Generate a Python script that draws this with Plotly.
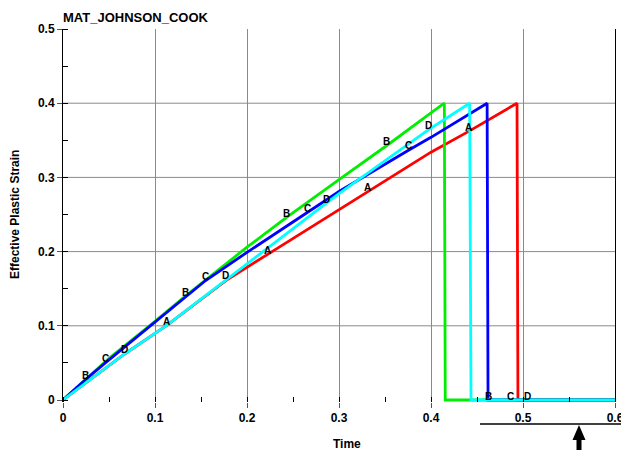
import numpy as np
import plotly.graph_objects as go

# ---- data ----
time_A = [0, 0.067, 0.112, 0.177, 0.222, 0.3, 0.331, 0.4, 0.441, 0.4935, 0.4945, 0.6]
strain_A = [0, 0.062, 0.100, 0.161, 0.196, 0.256, 0.281, 0.334, 0.362, 0.4, 0, 0]

time_B = [0, 0.024, 0.05, 0.1, 0.133, 0.2, 0.243, 0.3, 0.352, 0.4, 0.4145, 0.4155, 0.6]
strain_B = [0, 0.027, 0.056, 0.106, 0.140, 0.206, 0.246, 0.297, 0.343, 0.387, 0.4, 0, 0]

time_C = [0, 0.024, 0.046, 0.1, 0.155, 0.2, 0.266, 0.3, 0.376, 0.4, 0.461, 0.462, 0.6]
strain_C = [0, 0.027, 0.050, 0.105, 0.161, 0.199, 0.253, 0.281, 0.337, 0.354, 0.4, 0, 0]

time_D = [0, 0.067, 0.112, 0.177, 0.2, 0.286, 0.3, 0.397, 0.442, 0.4435, 0.6]
strain_D = [0, 0.062, 0.100, 0.162, 0.183, 0.265, 0.278, 0.364, 0.4, 0, 0]

label_t_A = [0.112, 0.222, 0.331, 0.441]
label_t_B = [0.024, 0.133, 0.243, 0.352, 0.462]
label_t_C = [0.046, 0.155, 0.266, 0.376, 0.486]
label_t_D = [0.067, 0.177, 0.286, 0.397, 0.505]

x_ticks = [0, 0.1, 0.2, 0.3, 0.4, 0.5, 0.6]
y_ticks = [0, 0.1, 0.2, 0.3, 0.4, 0.5]

FONT = "Liberation Sans, Arial, Helvetica, sans-serif"
GRID = "#8a8a8a"

curves = [
    ("A", time_A, strain_A, "#ff0000", label_t_A),
    ("B", time_B, strain_B, "#00ee00", label_t_B),
    ("C", time_C, strain_C, "#0000ff", label_t_C),
    ("D", time_D, strain_D, "#00ffff", label_t_D),
]

fig = go.Figure()
annotations = []
for name, t, s, col, lt in curves:
    fig.add_trace(go.Scatter(x=t, y=s, mode="lines", name=name,
                             line=dict(color=col, width=2.8), showlegend=False))
    ly = np.interp(lt, t, s)
    for xx, yy in zip(lt, ly):
        annotations.append(dict(x=xx, y=float(yy), xref="x", yref="y", text=name,
                                showarrow=False, yshift=4,
                                font=dict(family=FONT, size=10, color="black", weight="bold")))

# axis titles
annotations.append(dict(text="Time", xref="paper", yref="paper",
                        x=(347 - 63) / 552, y=(402 - 444) / 373,
                        showarrow=False, xanchor="center", yanchor="middle",
                        font=dict(family=FONT, size=12, color="black", weight="bold")))
annotations.append(dict(text="Effective Plastic Strain", xref="paper", yref="paper",
                        x=(15 - 63) / 552, y=(402 - 215) / 373, textangle=-90,
                        showarrow=False, xanchor="center", yanchor="middle",
                        font=dict(family=FONT, size=12, color="black", weight="bold")))

def px(xp):
    return (xp - 63) / 552

def py(yp):
    return (402 - yp) / 373

shapes = []
# horizontal grid lines (interior ticks only, as in the reference)
for v in y_ticks[1:-1]:
    shapes.append(dict(type="line", xref="paper", yref="y", x0=0, x1=1, y0=v, y1=v,
                       layer="below", line=dict(color=GRID, width=1)))
shapes += [
    dict(type="line", xref="paper", yref="paper", x0=px(480), x1=px(621), y0=py(424), y1=py(424),
         line=dict(color="black", width=1.5)),
    dict(type="path", xref="paper", yref="paper",
         path=(f"M {px(579)} {py(425)} L {px(585.5)} {py(440)} L {px(581.5)} {py(440)} "
               f"L {px(581.5)} {py(451)} L {px(576.5)} {py(451)} L {px(576.5)} {py(440)} "
               f"L {px(572.5)} {py(440)} Z"),
         fillcolor="black", line=dict(color="black", width=0)),
]

axis_common = dict(
    ticks="outside", ticklen=5, tickcolor="#555555", tickwidth=1,
    zeroline=False, automargin=False, ticklabeloverflow="allow",
    tickfont=dict(family=FONT, size=12, color="black", weight="bold"),
    minor=dict(ticks="inside", ticklen=5, tickcolor="black", dtick=0.05, showgrid=False),
)

fig.update_layout(
    width=621, height=450,
    margin=dict(l=63, r=6, t=29, b=48),
    paper_bgcolor="white", plot_bgcolor="white",
    title=dict(text="MAT_JOHNSON_COOK", x=63 / 621, xanchor="left", xref="container",
               y=1 - 17 / 450, yanchor="middle", yref="container",
               font=dict(family=FONT, size=13, color="black", weight="bold")),
    xaxis=dict(range=[0, 0.6], tickvals=x_ticks, ticktext=[f"{v:g}" for v in x_ticks],
               showgrid=True, gridcolor=GRID, gridwidth=1, showline=False, **axis_common),
    yaxis=dict(range=[-0.0027, 0.5], tickvals=y_ticks, ticktext=[f"{v:g}" for v in y_ticks],
               showgrid=False, showline=True, linecolor="black", linewidth=1,
               mirror=True, **axis_common),
    annotations=annotations,
    shapes=shapes,
)

fig.write_html("out.html")
